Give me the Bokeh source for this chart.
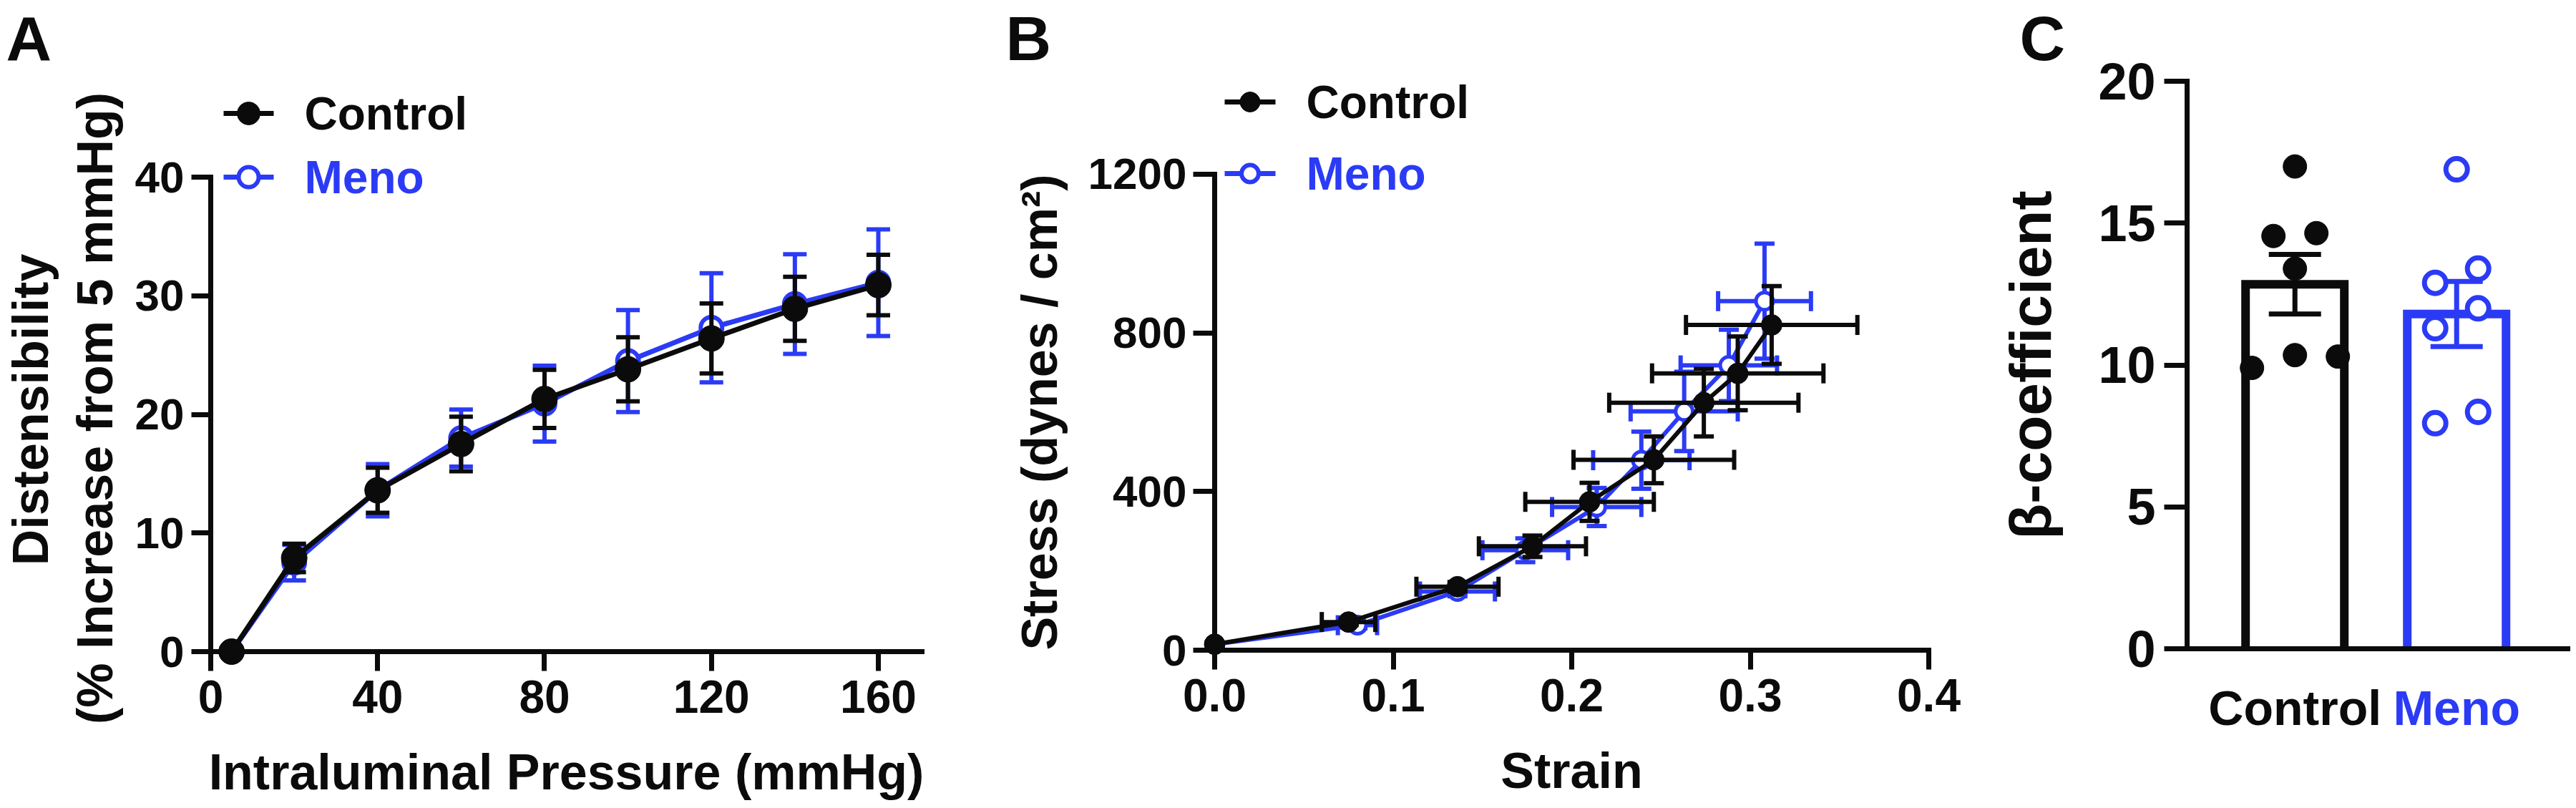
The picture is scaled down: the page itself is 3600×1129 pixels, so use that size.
import numpy as np
from bokeh.plotting import figure
from bokeh.models import Range1d, FixedTicker, PrintfTickFormatter
from bokeh.layouts import row
from bokeh.embed import file_html
from bokeh.resources import INLINE
from bokeh.core.properties import value

# ---------------- data ----------------
# Panel A : distensibility vs intraluminal pressure (mean +/- SEM)
pressure = [5, 20, 40, 60, 80, 100, 120, 140, 160]
dist_control = [0.0, 7.9, 13.6, 17.5, 21.3, 23.8, 26.4, 28.9, 30.9]
dist_control_sem = [0.0, 1.2, 1.9, 2.3, 2.45, 2.7, 2.95, 2.7, 2.55]
dist_meno = [0.0, 7.5, 13.6, 18.0, 20.9, 24.5, 27.3, 29.3, 31.1]
dist_meno_sem = [0.0, 1.5, 2.2, 2.4, 3.2, 4.3, 4.6, 4.2, 4.5]

# Panel B : stress vs strain (mean +/- SEM in both directions)
strain_control = [0.0, 0.075, 0.136, 0.178, 0.210, 0.246, 0.274, 0.293, 0.312]
strain_control_sem = [0.0, 0.015, 0.023, 0.030, 0.036, 0.045, 0.053, 0.048, 0.048]
stress_control = [15, 71, 160, 262, 374, 480, 624, 698, 820]
stress_control_sem = [0, 8, 12, 27, 48, 59, 85, 93, 98]
strain_meno = [0.0, 0.080, 0.136, 0.174, 0.214, 0.239, 0.263, 0.288, 0.308]
strain_meno_sem = [0.0, 0.011, 0.021, 0.024, 0.025, 0.027, 0.030, 0.027, 0.026]
stress_meno = [15, 63, 148, 252, 361, 479, 602, 718, 880]
stress_meno_sem = [0, 8, 12, 30, 48, 72, 100, 90, 145]

# Panel C : beta-coefficient, individual animals + mean +/- SEM
categories = ["Control", "Meno"]
beta_control = [17.0, 14.55, 14.65, 13.4, 9.9, 10.35, 10.3]
beta_meno = [16.9, 12.9, 13.4, 12.0, 11.3, 7.95, 8.35]
beta_mean = [12.85, 11.8]
beta_sem = [1.05, 1.15]
# horizontal jitter rank of each dot (layout only)
jitter_control = [0, -1, 1, 0, -2, 0, 2]
jitter_meno = [0, -1, 1, 1, -1, -1, 1]

# ---------------- style ----------------
BLACK = "#0b0b0b"
BLUE = "#2b3bf5"
FONT = "Liberation Sans"
TOP, BOTTOM = 0, 1129          # page pixel rows of the figures
AXW = 7                         # axis line width


class Frame:
    """maps page pixels <-> data for one panel"""
    def __init__(self, left, right, x0_px, x0_val, xs, y0_px, y0_val, ys):
        self.left, self.right = left, right
        self.x0_px, self.x0_val, self.xs = x0_px, x0_val, xs
        self.y0_px, self.y0_val, self.ys = y0_px, y0_val, ys

    def x(self, px):
        return self.x0_val + (px - self.x0_px) / self.xs

    def y(self, py):
        return self.y0_val + (self.y0_px - py) / self.ys

    def dx(self, px):
        return px / self.xs

    def dy(self, py):
        return py / self.ys


def make_figure(fr):
    p = figure(width=int(fr.right - fr.left), height=BOTTOM - TOP,
               x_range=Range1d(fr.x(fr.left), fr.x(fr.right)),
               y_range=Range1d(fr.y(BOTTOM), fr.y(TOP)),
               min_border=0, min_border_left=0, min_border_right=0,
               min_border_top=0, min_border_bottom=0,
               toolbar_location=None, output_backend="svg",
               outline_line_color=None)
    p.grid.visible = False
    p.background_fill_color = "white"
    p.border_fill_color = "white"
    return p


def style_axis(ax, fixed, bounds, ticks, tick_font, tick_out, lab_standoff,
               label="", label_font="70px", label_standoff=20, fmt=None):
    ax.fixed_location = fixed
    ax.bounds = bounds
    ax.ticker = FixedTicker(ticks=ticks)
    if fmt is not None:
        ax.formatter = fmt
    ax.minor_tick_line_color = None
    ax.major_tick_in = 0
    ax.major_tick_out = tick_out
    ax.axis_line_width = AXW
    ax.axis_line_color = BLACK
    ax.axis_line_cap = "square"
    ax.major_tick_line_width = AXW
    ax.major_tick_line_color = BLACK
    ax.major_label_text_font = FONT
    ax.major_label_text_font_style = "bold"
    ax.major_label_text_font_size = tick_font
    ax.major_label_text_color = BLACK
    ax.major_label_standoff = lab_standoff
    ax.axis_label = label
    ax.axis_label_text_font = FONT
    ax.axis_label_text_font_style = "bold"
    ax.axis_label_text_font_size = label_font
    ax.axis_label_text_color = BLACK
    ax.axis_label_standoff = label_standoff


def vbars(p, xs, ys, errs, color, cap, lw):
    xs, ys, e = np.asarray(xs, float), np.asarray(ys, float), np.asarray(errs, float)
    m = e > 0
    xs, ys, e = xs[m], ys[m], e[m]
    lo, hi = ys - e, ys + e
    h = cap / 2
    p.segment(x0=xs, y0=lo, x1=xs, y1=hi, line_color=color, line_width=lw)
    p.segment(x0=xs - h, y0=hi, x1=xs + h, y1=hi, line_color=color, line_width=lw)
    p.segment(x0=xs - h, y0=lo, x1=xs + h, y1=lo, line_color=color, line_width=lw)


def hbars(p, xs, ys, errs, color, cap, lw):
    xs, ys, e = np.asarray(xs, float), np.asarray(ys, float), np.asarray(errs, float)
    m = e > 0
    xs, ys, e = xs[m], ys[m], e[m]
    lo, hi = xs - e, xs + e
    h = cap / 2
    p.segment(x0=lo, y0=ys, x1=hi, y1=ys, line_color=color, line_width=lw)
    p.segment(x0=hi, y0=ys - h, x1=hi, y1=ys + h, line_color=color, line_width=lw)
    p.segment(x0=lo, y0=ys - h, x1=lo, y1=ys + h, line_color=color, line_width=lw)


def put_text(p, fr, px, py, txt, color=BLACK, size="64px", align="left", angle=0.0):
    """py is the vertical centre of the capitals"""
    p.text(x=[fr.x(px)], y=[fr.y(py)], text=[txt], text_color=color,
           text_font=value(FONT), text_font_style="bold", text_font_size=size,
           text_align=align, text_baseline="middle", angle=angle)


def legend_entry(p, fr, x_l, x_r, yc, x_txt, label, color, filled, msize, lw):
    p.segment(x0=[fr.x(x_l)], y0=[fr.y(yc)], x1=[fr.x(x_r)], y1=[fr.y(yc)],
              line_color=color, line_width=lw)
    xm = fr.x((x_l + x_r) / 2)
    if filled:
        p.scatter(x=[xm], y=[fr.y(yc)], size=msize, fill_color=color, line_color=color)
    else:
        p.scatter(x=[xm], y=[fr.y(yc)], size=msize, fill_color="white",
                  line_color=color, line_width=6)
    put_text(p, fr, x_txt, yc, label, color=color, size="64px")


# ======================= Panel A =======================
frA = Frame(0, 1360, 294, 0.0, 5.831, 910, 0.0, 16.575)
pA = make_figure(frA)
style_axis(pA.xaxis[0], 0, (0, frA.x(1288)), [0, 40, 80, 120, 160], "64px", 27, 13,
           "Intraluminal Pressure (mmHg)", "70px", 41)
style_axis(pA.yaxis[0], 0, (0, 40), [0, 10, 20, 30, 40], "62px", 27, 10)
put_text(pA, frA, 42, 572, "Distensibility", size="70px", align="center", angle=np.pi / 2)
put_text(pA, frA, 132, 570, "(% Increase from 5 mmHg)", size="70px", align="center",
         angle=np.pi / 2)

capA = frA.dx(33)
vbars(pA, pressure, dist_meno, dist_meno_sem, BLUE, capA, 6)
pA.line(pressure, dist_meno, line_color=BLUE, line_width=7)
pA.scatter(pressure, dist_meno, size=30, fill_color="white", line_color=BLUE, line_width=6)
vbars(pA, pressure, dist_control, dist_control_sem, BLACK, capA, 6)
pA.line(pressure, dist_control, line_color=BLACK, line_width=7)
pA.scatter(pressure, dist_control, size=36, fill_color=BLACK, line_color=BLACK)

legend_entry(pA, frA, 312, 382, 158, 425, "Control", BLACK, True, 32, 7)
legend_entry(pA, frA, 312, 382, 247, 425, "Meno", BLUE, False, 28, 7)
put_text(pA, frA, 8, 53, "A", size="88px")

# ======================= Panel B =======================
frB = Frame(1360, 2770, 1697, 0.0, 2495.0, 908, 0.0, 0.5542)
pB = make_figure(frB)
style_axis(pB.xaxis[0], 0, (0, 0.4), [0, 0.1, 0.2, 0.3, 0.4], "64px", 27, 13,
           "Strain", "70px", 41, fmt=PrintfTickFormatter(format="%.1f"))
style_axis(pB.yaxis[0], 0, (0, 1200), [0, 400, 800, 1200], "62px", 30, 9,
           "Stress (dynes / cm²)", "70px", 26)

capBy = frB.dx(28)   # caps of vertical error bars (data x units)
capBx = frB.dy(28)   # caps of horizontal error bars (data y units)
hbars(pB, strain_meno, stress_meno, strain_meno_sem, BLUE, capBx, 6)
vbars(pB, strain_meno, stress_meno, stress_meno_sem, BLUE, capBy, 6)
pB.line(strain_meno, stress_meno, line_color=BLUE, line_width=6)
pB.scatter(strain_meno, stress_meno, size=24, fill_color="white", line_color=BLUE, line_width=5)
hbars(pB, strain_control, stress_control, strain_control_sem, BLACK, capBx, 6)
vbars(pB, strain_control, stress_control, stress_control_sem, BLACK, capBy, 6)
pB.line(strain_control, stress_control, line_color=BLACK, line_width=6)
pB.scatter(strain_control, stress_control, size=29, fill_color=BLACK, line_color=BLACK)

legend_entry(pB, frB, 1711, 1782, 142, 1825, "Control", BLACK, True, 28, 7)
legend_entry(pB, frB, 1711, 1782, 242, 1825, "Meno", BLUE, False, 24, 7)
put_text(pB, frB, 1405, 53, "B", size="88px")

# ======================= Panel C =======================
frC = Frame(2770, 3600, 3206.7, 1.0, 226.0, 906, 0.0, 39.64)
pC = make_figure(frC)
yaxis_x = frC.x(3056)
style_axis(pC.xaxis[0], 0, (yaxis_x, frC.x(3588)), [], "1px", 0, 0)
pC.xaxis[0].major_label_text_font_size = "0px"
style_axis(pC.yaxis[0], yaxis_x, (0, 20), [0, 5, 10, 15, 20], "72px", 32, 12,
           "β-coefficient", "82px", 46)

cat_x = [i + 1 for i, _ in enumerate(categories)]
bar_w = frC.dx(138)
colors = [BLACK, BLUE]
pC.multi_line(xs=[[c - bar_w / 2, c - bar_w / 2, c + bar_w / 2, c + bar_w / 2] for c in cat_x],
              ys=[[0, m, m, 0] for m in beta_mean],
              line_color=colors, line_width=12, line_join="miter")
for c, m, s, col in zip(cat_x, beta_mean, beta_sem, colors):
    vbars(pC, [c], [m], [s], col, frC.dx(73), 7)

jit = frC.dx(30)
pC.scatter([cat_x[0] + j * jit for j in jitter_control], beta_control, size=33,
           fill_color=BLACK, line_color=BLACK)
pC.scatter([cat_x[1] + j * jit for j in jitter_meno], beta_meno, size=30,
           fill_color="white", line_color=BLUE, line_width=7)

for c, name, col in zip(cat_x, categories, colors):
    pC.text(x=[c], y=[frC.y(988)], text=[name], text_color=col,
            text_font=value(FONT), text_font_style="bold", text_font_size="68px",
            text_align="center", text_baseline="middle")
put_text(pC, frC, 2822, 53, "C", size="88px")

layout = row(pA, pB, pC, spacing=0)
open("out.html", "w").write(file_html(layout, INLINE))
